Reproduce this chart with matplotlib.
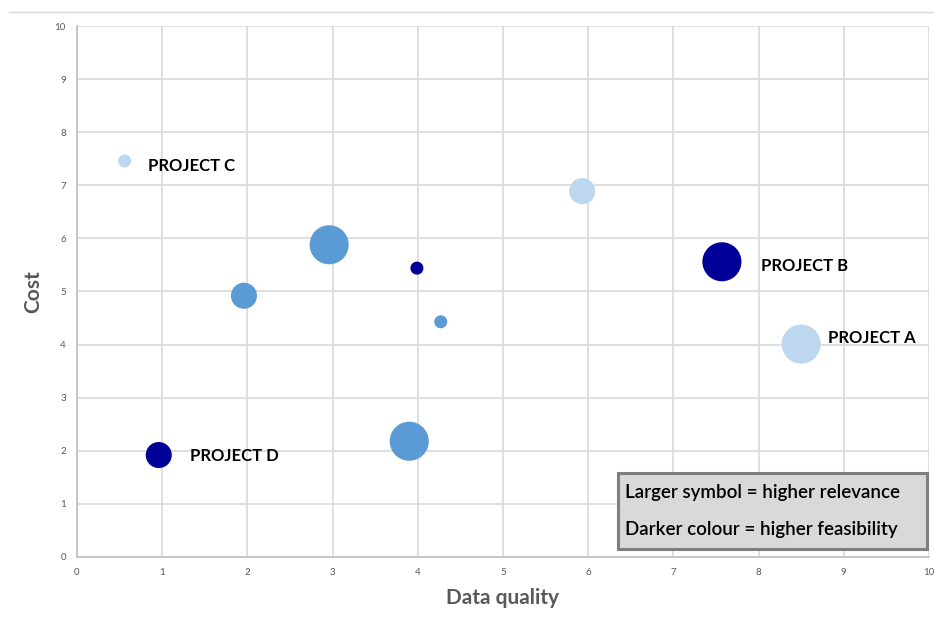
import matplotlib
matplotlib.use("Agg")
import matplotlib.pyplot as plt
from matplotlib.lines import Line2D
from matplotlib.patches import Rectangle

# Data
data_quality = [0.56, 1.96, 2.96, 3.99, 4.27, 5.93, 7.57, 8.50, 0.96, 3.90]
cost = [7.46, 4.92, 5.88, 5.44, 4.43, 6.89, 5.56, 4.01, 1.92, 2.18]
relevance = [1, 2, 3, 1, 1, 2, 3, 3, 2, 3]
feasibility = [1, 2, 2, 3, 2, 1, 3, 1, 3, 2]
labels = ["PROJECT C", "", "", "", "", "", "PROJECT B", "PROJECT A", "PROJECT D", ""]

# label offsets in pixels (dx right, dy up)
label_offsets = {
    "PROJECT C": (23, -5),
    "PROJECT B": (39, -4),
    "PROJECT A": (27, 6),
    "PROJECT D": (31, -1),
}

note_lines = ["Larger symbol = higher relevance", "Darker colour = higher feasibility"]

colours = {1: "#BDD7EE", 2: "#5B9BD5", 3: "#000099"}
FONT = "Lato"


def main():
    fig = plt.figure(figsize=(9.34, 6.21), dpi=100)
    ax = fig.add_axes([0.0824, 0.1031, 0.9122, 0.855])

    sizes = [88 * r ** 2 for r in relevance]
    cols = [colours[f] for f in feasibility]
    ax.scatter(data_quality, cost, s=sizes, c=cols, edgecolors="none", zorder=3)

    for x, y, lab in zip(data_quality, cost, labels):
        if not lab:
            continue
        dx, dy = label_offsets[lab]
        ax.annotate(lab, (x, y), xytext=(dx, dy), textcoords="offset pixels",
                    ha="left", va="center", fontsize=12, fontweight="bold",
                    family=FONT, color="black")

    ax.set_xlim(0, 10)
    ax.set_ylim(0, 10)
    ax.set_xticks(range(11))
    ax.set_yticks(range(11))
    ax.grid(True, color="#D9D9D9", linewidth=1.2, zorder=0)
    ax.set_axisbelow(True)
    for side in ["top", "right"]:
        ax.spines[side].set_visible(False)
    for side in ["left", "bottom"]:
        ax.spines[side].set_color("#BFBFBF")
        ax.spines[side].set_linewidth(1.2)
    ax.tick_params(length=0, labelsize=7, labelcolor="#595959", pad=8)
    for t in ax.get_xticklabels() + ax.get_yticklabels():
        t.set_family(FONT)

    ax.set_xlabel("Data quality", fontsize=15, fontweight="bold", color="#595959",
                  family=FONT, labelpad=8)
    ax.set_ylabel("Cost", fontsize=15, fontweight="bold", color="#595959",
                  family=FONT, labelpad=8)

    # explanation box
    ax.add_patch(Rectangle((0.635, 0.015), 0.363, 0.143, transform=ax.transAxes,
                           facecolor="#D9D9D9", edgecolor="#7F7F7F", linewidth=2.2,
                           zorder=5, clip_on=False))
    for line, ypos in zip(note_lines, [0.122, 0.051]):
        ax.text(0.643, ypos, line, transform=ax.transAxes, ha="left", va="center",
                fontsize=13.5, family=FONT, fontweight="semibold", color="black",
                zorder=6)

    # thin line at top of chart area
    fig.add_artist(Line2D([0.01, 1.0], [0.981, 0.981], color="#D9D9D9", linewidth=1))

    fig.savefig("out.png", dpi=100)


if __name__ == "__main__":
    main()
